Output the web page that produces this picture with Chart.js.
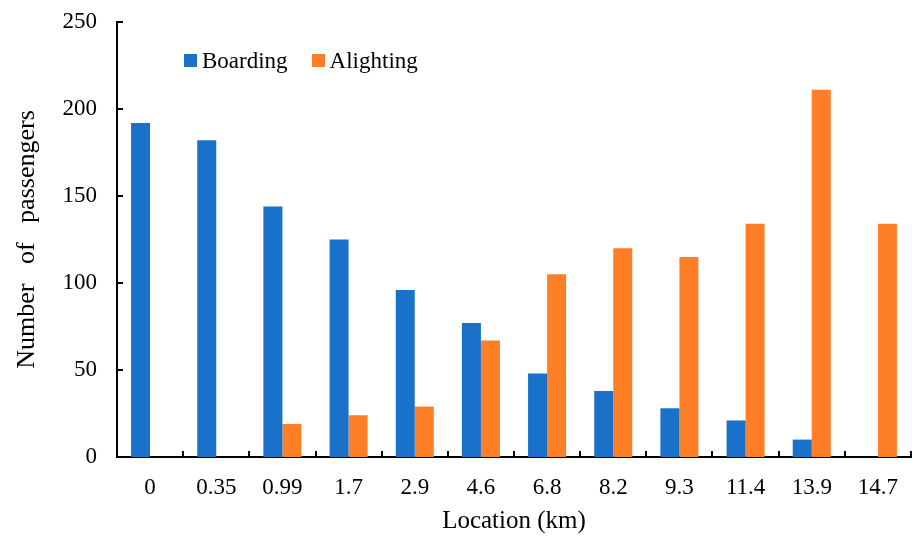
<!DOCTYPE html>
<html>
<head>
<meta charset="utf-8">
<script src="https://cdn.jsdelivr.net/npm/chart.js@4.4.0/dist/chart.umd.min.js"></script>
<style>
    html, body { margin: 0; padding: 0; background: #fff; }
    #wrap { position: relative; width: 912px; height: 537px; }
    #legend { position: absolute; left: 184px; top: 48px; font-family: 'Times New Roman', 'Liberation Serif', serif; font-size: 23px; color: #000; white-space: nowrap; }
    #legend span.item { display: inline-block; margin-right: 24px; }
    #legend span.box { display: inline-block; width: 13px; height: 13px; margin-right: 5px; vertical-align: 1px; }
</style>
</head>
<body>
<div id="wrap">
    <canvas id="myChart" width="912" height="537"></canvas>
    <div id="legend"></div>
</div>
<script>
// Dữ liệu biểu đồ
const locations = ['0', '0.35', '0.99', '1.7', '2.9', '4.6', '6.8', '8.2', '9.3', '11.4', '13.9', '14.7'];
const boarding = [192, 182, 144, 125, 96, 77, 48, 38, 28, 21, 10, 0];
const alighting = [0, 0, 19, 24, 29, 67, 105, 120, 115, 134, 211, 134];
const yTicks = [0, 50, 100, 150, 200, 250];

const blue = '#1a71c9';
const orange = '#ff7f27';
const fontFamily = "'Times New Roman', 'Liberation Serif', serif";

// Vẽ vạch chia hướng vào trong
const innerTicks = {
    id: 'innerTicks',
    afterDraw(chart) {
        const ctx = chart.ctx;
        const x = chart.scales.x;
        const y = chart.scales.y;
        ctx.save();
        ctx.strokeStyle = '#000';
        ctx.lineWidth = 2;
        ctx.beginPath();
        yTicks.forEach(v => {
            const py = Math.round(y.getPixelForValue(v));
            ctx.moveTo(x.left, py);
            ctx.lineTo(x.left + 6, py);
        });
        const half = (x.getPixelForValue(1) - x.getPixelForValue(0)) / 2;
        for (let i = 0; i <= locations.length; i++) {
            const px = Math.round(x.getPixelForValue(i) - half);
            ctx.moveTo(px, y.bottom);
            ctx.lineTo(px, y.bottom - 6);
        }
        ctx.stroke();
        ctx.restore();
    }
};

const chart = new Chart(document.getElementById('myChart'), {
    type: 'bar',
    data: {
        labels: locations,
        datasets: [
            { label: 'Boarding', data: boarding, backgroundColor: blue },
            { label: 'Alighting', data: alighting, backgroundColor: orange }
        ]
    },
    options: {
        responsive: false,
        animation: false,
        layout: { padding: { top: 22, right: 1, left: 0, bottom: 0 } },
        plugins: {
            legend: { display: false },
            tooltip: { enabled: false }
        },
        datasets: {
            bar: { barPercentage: 1, categoryPercentage: 0.575 }
        },
        scales: {
            x: {
                grid: { display: false, drawTicks: false },
                border: { display: true, color: '#000', width: 2 },
                ticks: { color: '#000', padding: 17, font: { family: fontFamily, size: 23 } },
                title: { display: true, text: 'Location (km)', color: '#000', padding: { top: 0, bottom: 1 }, font: { family: fontFamily, size: 25 } },
                afterFit(scale) {
                    scale.height = 80;
                    scale.paddingLeft = 0;
                    scale.paddingRight = 0;
                }
            },
            y: {
                min: 0,
                max: 250,
                grid: { display: false, drawTicks: false },
                border: { display: true, color: '#000', width: 2 },
                afterBuildTicks(scale) { scale.ticks = yTicks.map(v => ({ value: v })); },
                ticks: { color: '#000', padding: 20, font: { family: fontFamily, size: 23 } },
                title: { display: true, text: 'Number   of   passengers', color: '#000', padding: { top: 12, bottom: 0 }, font: { family: fontFamily, size: 26 } },
                afterFit(scale) {
                    scale.width = 117;
                    scale.paddingTop = 0;
                    scale.paddingBottom = 0;
                }
            }
        }
    },
    plugins: [innerTicks]
});

// Chú thích dạng HTML
const legendEl = document.getElementById('legend');
chart.data.datasets.forEach(ds => {
    const item = document.createElement('span');
    item.className = 'item';
    item.innerHTML = '<span class="box" style="background:' + ds.backgroundColor + '"></span>' + ds.label;
    legendEl.appendChild(item);
});
</script>
</body>
</html>
